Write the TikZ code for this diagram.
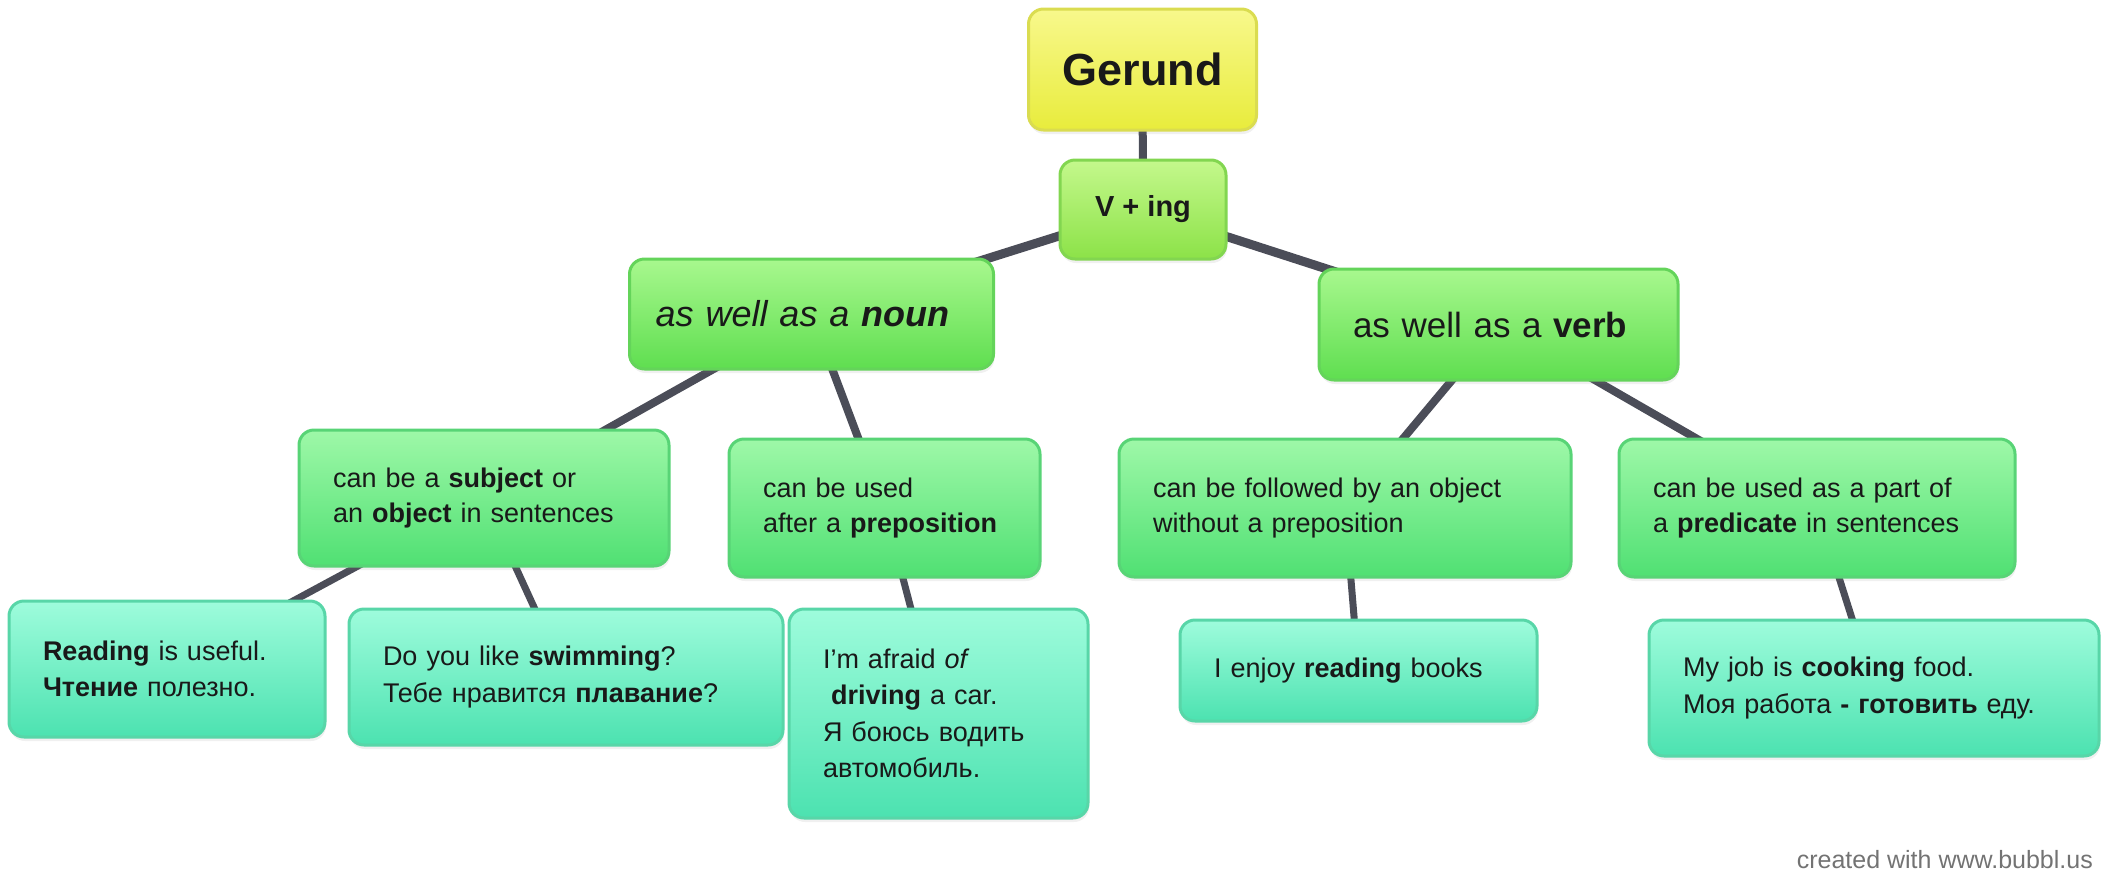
\documentclass[tikz,border=0pt]{standalone}
\usepackage{fontspec}
\setmainfont{Liberation Sans}
\usetikzlibrary{backgrounds,shadows}

\definecolor{linha}{RGB}{75,77,88}
\definecolor{amareloA}{RGB}{248,248,140}
\definecolor{amareloB}{RGB}{232,236,60}
\definecolor{amareloC}{RGB}{218,220,80}
\definecolor{limaA}{RGB}{196,248,140}
\definecolor{limaB}{RGB}{140,226,72}
\definecolor{limaC}{RGB}{130,214,80}
\definecolor{verdeA}{RGB}{168,248,142}
\definecolor{verdeB}{RGB}{95,222,80}
\definecolor{verdeC}{RGB}{100,212,90}
\definecolor{mentaA}{RGB}{158,248,168}
\definecolor{mentaB}{RGB}{80,224,115}
\definecolor{mentaC}{RGB}{88,212,118}
\definecolor{aguaA}{RGB}{158,252,220}
\definecolor{aguaB}{RGB}{76,226,176}
\definecolor{aguaC}{RGB}{88,214,168}

\begin{document}
\begin{tikzpicture}[x=1pt,y=-1pt,
  caixa/.style={draw, rounded corners=15pt, line width=3pt, inner ysep=0pt,
    inner xsep=34pt, align=left, text=black!90,
    drop shadow={shadow xshift=1pt, shadow yshift=-4pt, opacity=0.12}},
  topo/.style={caixa, align=center, draw=amareloC, top color=amareloA, bottom color=amareloB},
  raiz/.style={caixa, align=center, draw=limaC, top color=limaA, bottom color=limaB},
  ramo/.style={caixa, draw=verdeC, top color=verdeA, bottom color=verdeB},
  regra/.style={caixa, draw=mentaC, top color=mentaA, bottom color=mentaB,
    font=\fontsize{27}{35.5}\selectfont},
  exemplo/.style={caixa, draw=aguaC, top color=aguaA, bottom color=aguaB,
    font=\fontsize{27}{36.5}\selectfont},
  ligacao/.style={draw=linha, line width=#1, line cap=round}
]

% Fundo
\path[use as bounding box] (0,0) rectangle (2112,892);

% Topo
\node[topo, minimum width=227pt, minimum height=121pt, font=\fontsize{45}{50}\bfseries] (gerund) at (1142.5,69.5) {Gerund};
\node[raiz, minimum width=166pt, minimum height=99pt, font=\fontsize{29}{34}\bfseries] (ving) at (1143,209.5) {V + ing};

% Ramos
\node[ramo, text width=312pt, inner xsep=26pt, minimum height=110pt, font=\fontsize{36}{42}\selectfont\itshape] (noun) at (811.5,314) {as well as a \textbf{noun}};
\node[ramo, text width=291pt, minimum height=111pt, font=\fontsize{35}{40}\selectfont] (verb) at (1498.5,324.5) {as well as a \textbf{verb}};

% Regras
\node[regra, text width=302pt, minimum height=136pt] (subj) at (484,498) {can be a \textbf{subject} or\\an \textbf{object} in sentences};
\node[regra, text width=243pt, minimum height=138pt] (prep) at (884.5,508) {can be used\\after a \textbf{preposition}};
\node[regra, text width=384pt, minimum height=138pt] (follow) at (1345,508) {can be followed by an object\\without a preposition};
\node[regra, text width=328pt, minimum height=138pt] (pred) at (1817,508) {can be used as a part of\\a \textbf{predicate} in sentences};

% Exemplos
\node[exemplo, text width=248pt, minimum height=136pt] (read) at (167,669) {\textbf{Reading} is useful.\\\textbf{Чтение} полезно.};
\node[exemplo, text width=366pt, minimum height=136pt] (swim) at (566,677) {Do you like \textbf{swimming}?\\Тебе нравится \textbf{плавание}?};
\node[exemplo, text width=231pt, minimum height=209pt] (drive) at (938.5,713.5) {I'm afraid \textit{of}\\\hspace*{.3em}\textbf{driving} a car.\\Я боюсь водить\\автомобиль.};
\node[exemplo, text width=289pt, minimum height=101pt] (enjoy) at (1358.5,670.5) {I enjoy \textbf{reading} books};
\node[exemplo, text width=382pt, minimum height=136pt] (cook) at (1874,688) {My job is \textbf{cooking} food.\\Моя работа \textbf{- готовить} еду.};

% Assinatura
\node[anchor=base east, inner sep=0pt, text=black!55, font=\fontsize{25}{30}\selectfont] (credito) at (2093,868) {created with www.bubbl.us};

% Ligacoes
\begin{scope}[on background layer]
\draw[ligacao=8pt] (gerund.center) -- (ving.center);
\draw[ligacao=9pt] (ving.center) -- (noun.center);
\draw[ligacao=9pt] (ving.center) -- (verb.center);
\draw[ligacao=8pt] (noun.center) -- (subj.center);
\draw[ligacao=8pt] (noun.center) -- (prep.center);
\draw[ligacao=8pt] (verb.center) -- (follow.center);
\draw[ligacao=8pt] (verb.center) -- (pred.center);
\draw[ligacao=7pt] (subj.center) -- (read.center);
\draw[ligacao=7pt] (subj.center) -- (swim.center);
\draw[ligacao=7pt] (prep.center) -- (drive.center);
\draw[ligacao=7pt] (follow.center) -- (enjoy.center);
\draw[ligacao=7pt] (pred.center) -- (cook.center);
\end{scope}

\end{tikzpicture}
\end{document}
